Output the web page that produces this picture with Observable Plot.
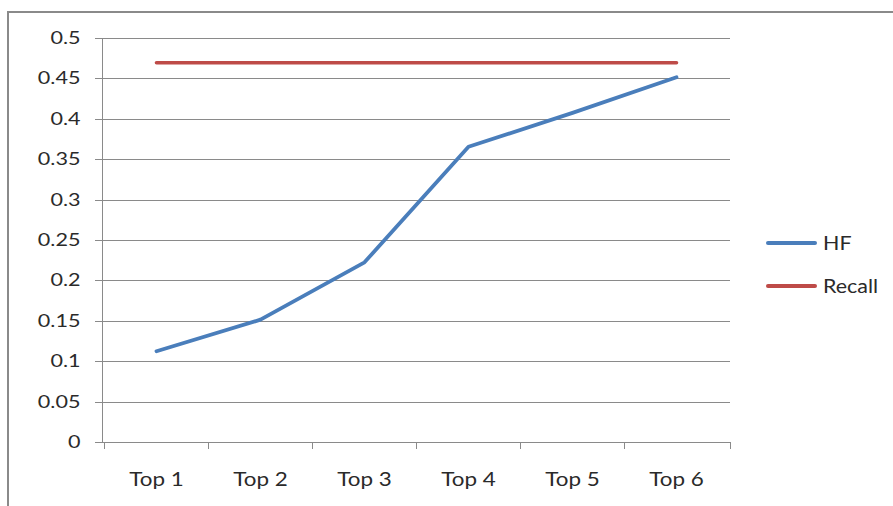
<!DOCTYPE html>
<html><head><meta charset="utf-8">
<script src="https://cdn.jsdelivr.net/npm/d3@7"></script>
<script src="https://cdn.jsdelivr.net/npm/@observablehq/plot@0.6"></script>
<style>
body{margin:0;background:#fff;}
#wrap{position:relative;width:893px;height:506px;overflow:hidden;font-family:Lato,sans-serif;}
#frame{position:absolute;left:7px;top:11px;width:1000px;height:1000px;border:2px solid #8a8a8a;box-sizing:border-box;}
#chart{position:absolute;left:0;top:0;}
.leg{position:absolute;left:766px;height:24px;display:flex;align-items:center;}
.leg .sw{width:51px;height:4px;border-radius:2px;margin-right:6px;}
.leg span{display:inline-block;font-size:19.5px;line-height:24px;color:#2a2a2a;transform:scaleX(1.1);transform-origin:left center;}
</style></head>
<body><div id="wrap"><div id="frame"></div><div id="chart"></div><div id="legend"></div></div>
<script>
const categories = ["Top 1", "Top 2", "Top 3", "Top 4", "Top 5", "Top 6"];
const hfValues = [0.113, 0.152, 0.223, 0.366, 0.408, 0.452];
const recallValues = [0.47, 0.47, 0.47, 0.47, 0.47, 0.47];
const yTicks = [0, 0.05, 0.1, 0.15, 0.2, 0.25, 0.3, 0.35, 0.4, 0.45, 0.5];
const yTickLabels = ["0", "0.05", "0.1", "0.15", "0.2", "0.25", "0.3", "0.35", "0.4", "0.45", "0.5"];
const seriesNames = ["HF", "Recall"];
const seriesColors = ["#4a7ebb", "#be4b48"];
const gridColor = "#8a8a8a";
const textColor = "#2a2a2a";

const table = categories.map((c, i) => ({cat: c, HF: hfValues[i], Recall: recallValues[i]}));

function axes(index, scales, values, dims) {
  const x = scales.x, y = scales.y;
  const left = dims.marginLeft, right = dims.width - dims.marginRight;
  const base = y(0);
  const g = d3.create("svg:g").attr("stroke", gridColor).attr("stroke-width", 1);
  for (const t of yTicks) {
    const yy = Math.round(y(t)) + 0.5;
    g.append("line").attr("x1", left - 7).attr("x2", right).attr("y1", yy).attr("y2", yy);
  }
  g.append("line").attr("x1", Math.round(left) + 0.5).attr("x2", Math.round(left) + 0.5)
    .attr("y1", y(yTicks[yTicks.length - 1])).attr("y2", base);
  const edges = categories.map(c => x(c)).concat([right]);
  for (const e of edges) {
    const xx = Math.round(e) + 0.5;
    g.append("line").attr("x1", xx).attr("x2", xx).attr("y1", base).attr("y2", base + 7);
  }
  return g.node();
}

const plot = Plot.plot({
  width: 893,
  height: 506,
  marginLeft: 102,
  marginRight: 163,
  marginTop: 38,
  marginBottom: 64,
  style: {fontFamily: "Lato, sans-serif", fontSize: "16px", color: textColor, background: "transparent"},
  x: {type: "band", domain: categories, padding: 0, axis: null},
  y: {domain: [0, 0.5], axis: null},
  marks: [
    axes,
    Plot.text(yTicks, {y: d => d, text: (d, i) => yTickLabels[i], frameAnchor: "left", dx: -22, textAnchor: "end", fill: textColor, fontSize: 17}),
    Plot.text(categories, {x: d => d, text: d => d, frameAnchor: "bottom", dy: 43, fill: textColor, fontSize: 19.5}),
    Plot.line(table, {x: "cat", y: "HF", stroke: seriesColors[0], strokeWidth: 3.8, strokeLinejoin: "round", strokeLinecap: "round"}),
    Plot.line(table, {x: "cat", y: "Recall", stroke: seriesColors[1], strokeWidth: 3.6, strokeLinejoin: "round", strokeLinecap: "round"})
  ]
});
document.getElementById("chart").appendChild(plot);
plot.querySelectorAll("text").forEach(t => {
  const fs = parseFloat(getComputedStyle(t).fontSize);
  const k = fs < 18 ? 1.27 : 1.15;
  const len = t.getComputedTextLength();
  t.setAttribute("textLength", (len * k).toFixed(2));
  t.setAttribute("lengthAdjust", "spacingAndGlyphs");
});

const legendTops = [231, 274];
const legend = document.getElementById("legend");
seriesNames.forEach((name, i) => {
  const row = document.createElement("div");
  row.className = "leg";
  row.style.top = legendTops[i] + "px";
  const sw = document.createElement("div");
  sw.className = "sw";
  sw.style.background = seriesColors[i];
  const lab = document.createElement("span");
  lab.textContent = name;
  row.appendChild(sw); row.appendChild(lab);
  legend.appendChild(row);
});
</script>
</body></html>
